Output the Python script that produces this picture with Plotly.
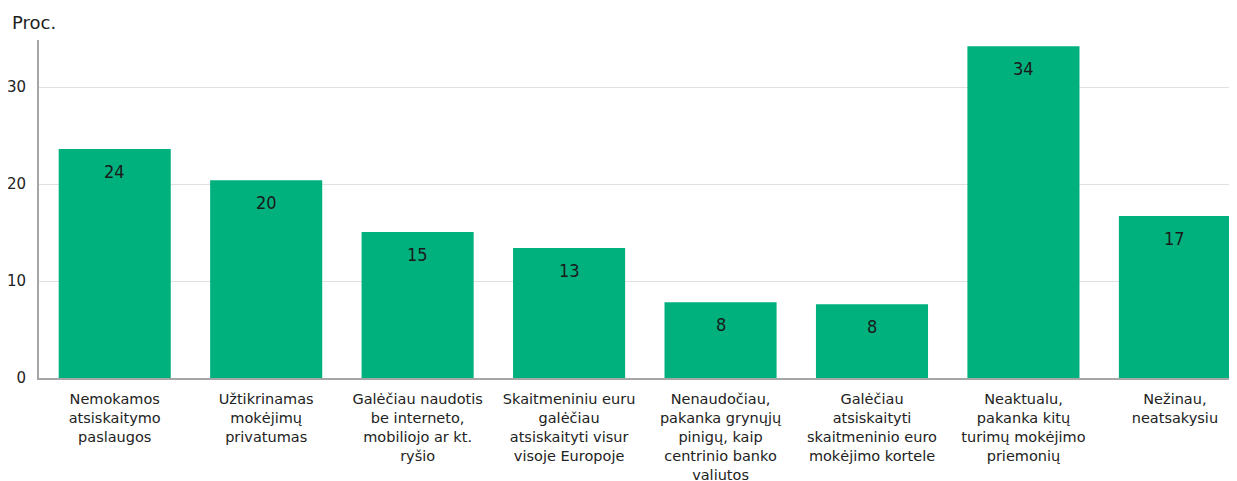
import plotly.graph_objects as go

categories = [
    "Nemokamos<br>atsiskaitymo<br>paslaugos",
    "Užtikrinamas<br>mokėjimų<br>privatumas",
    "Galėčiau naudotis<br>be interneto,<br>mobiliojo ar kt.<br>ryšio",
    "Skaitmeniniu euru<br>galėčiau<br>atsiskaityti visur<br>visoje Europoje",
    "Nenaudočiau,<br>pakanka grynųjų<br>pinigų, kaip<br>centrinio banko<br>valiutos",
    "Galėčiau<br>atsiskaityti<br>skaitmeninio euro<br>mokėjimo kortele",
    "Neaktualu,<br>pakanka kitų<br>turimų mokėjimo<br>priemonių",
    "Nežinau,<br>neatsakysiu",
]
values = [23.6, 20.4, 15.05, 13.4, 7.8, 7.6, 34.2, 16.7]
labels = ["24", "20", "15", "13", "8", "8", "34", "17"]

x_idx = list(range(len(categories)))

fig = go.Figure()
fig.add_trace(go.Bar(
    x=x_idx, y=values, width=0.74,
    marker=dict(color="#00B07D", line=dict(width=0)),
    hoverinfo="skip",
))

for xi, v, lab in zip(x_idx, values, labels):
    fig.add_annotation(x=xi, y=v, text=lab, showarrow=False, yshift=-22,
                       font=dict(family="DejaVu Sans Condensed, Liberation Sans, sans-serif", size=18, color="#1a1a1a"))

fig.add_annotation(xref="paper", yref="paper", x=-0.0, xshift=-29, y=1.0, yshift=18,
                   xanchor="left", yanchor="middle", text="Proc.", showarrow=False,
                   font=dict(family="DejaVu Sans, Verdana", size=18, color="#222"))

# page body has an 8px margin, so the figure is offset by (8, 8)
fig.update_layout(
    width=1229, height=473,
    margin=dict(l=31, r=0, t=32, b=103),
    paper_bgcolor="white", plot_bgcolor="white",
    showlegend=False,
    bargap=0.26,
)
fig.update_xaxes(
    tickmode="array", tickvals=x_idx, ticktext=categories,
    range=[-0.5, 7.41],
    showline=True, linecolor="#a6a6a6", linewidth=2,
    showgrid=False, ticks="", automargin=False,
    ticklabelstandoff=7,
    tickfont=dict(family="DejaVu Sans, Verdana", size=14.5, color="#222"),
    tickangle=0,
)
fig.update_yaxes(
    range=[0, 34.85], tickvals=[0, 10, 20, 30],
    showline=True, linecolor="#a6a6a6", linewidth=2,
    showgrid=True, gridcolor="#e0e0e0", gridwidth=1,
    zeroline=False, ticks="", automargin=False,
    ticklabelstandoff=8,
    tickfont=dict(family="DejaVu Sans, Verdana", size=15, color="#222"),
)

fig.write_html("out.html")
